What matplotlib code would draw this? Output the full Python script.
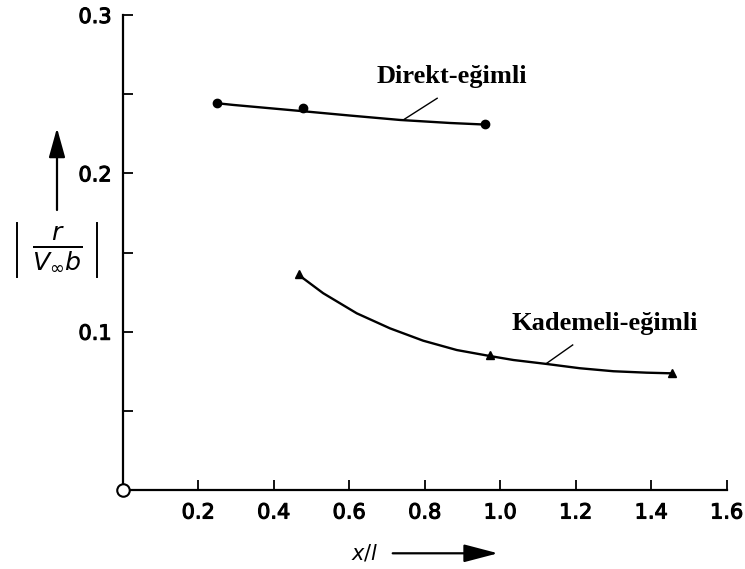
import matplotlib
matplotlib.use("Agg")
import matplotlib.pyplot as plt
import matplotlib.patheffects as pe
from matplotlib.lines import Line2D

# Data
direkt_x = [0.249, 0.477, 0.960]
direkt_y = [0.2443, 0.2411, 0.2310]
direkt_curve_x = [0.249, 0.293, 0.470, 0.602, 0.735, 0.867, 0.960]
direkt_curve_y = [0.2443, 0.2432, 0.2394, 0.2365, 0.2337, 0.2318, 0.2308]

kademeli_x = [0.468, 0.973, 1.454]
kademeli_y = [0.1364, 0.0850, 0.0737]
kademeli_curve_x = [0.468, 0.531, 0.620, 0.708, 0.796, 0.885, 0.973, 1.035,
                    1.123, 1.211, 1.300, 1.388, 1.452]
kademeli_curve_y = [0.1355, 0.1243, 0.1116, 0.1021, 0.0943, 0.0884, 0.0846, 0.0821,
                    0.0796, 0.0769, 0.0750, 0.0741, 0.0737]

x_ticks = [0.2, 0.4, 0.6, 0.8, 1.0, 1.2, 1.4, 1.6]
x_tick_labels = ["0.2", "0.4", "0.6", "0.8", "1.0", "1.2", "1.4", "1.6"]
y_ticks = [0.1, 0.2, 0.3]
y_tick_labels = ["0.1", "0.2", "0.3"]
y_minor_ticks = [0.05, 0.15, 0.25]

label_direkt = "Direkt-eğimli"
label_kademeli = "Kademeli-eğimli"

W, H = 745, 569
fig = plt.figure(figsize=(W / 100, H / 100), dpi=100)
ax = fig.add_axes([122.7 / W, 1 - 490 / H, (726.7 - 122.7) / W, (490 - 15) / H])

ax.set_xlim(0, 1.6)
ax.set_ylim(0, 0.3)
for s in ["top", "right"]:
    ax.spines[s].set_visible(False)
for s in ["left", "bottom"]:
    ax.spines[s].set_linewidth(1.6)
    ax.spines[s].set_color("black")

ax.set_xticks(x_ticks)
ax.set_xticklabels(x_tick_labels)
ax.set_yticks(y_ticks)
ax.set_yticklabels(y_tick_labels)
ax.set_yticks(y_minor_ticks, minor=True)
ax.tick_params(axis="both", which="both", direction="in", length=7, width=1.3,
               colors="black")
bold_fx = [pe.withStroke(linewidth=0.8, foreground="black")]
for lab in ax.get_xticklabels() + ax.get_yticklabels():
    lab.set_fontfamily("DejaVu Sans")
    lab.set_fontsize(15)
    lab.set_path_effects(bold_fx)
ax.tick_params(axis="x", pad=9)
ax.tick_params(axis="y", pad=8)

# Curves
ax.plot(direkt_curve_x, direkt_curve_y, color="black", lw=1.7, solid_capstyle="round",
        solid_joinstyle="round")
ax.plot(direkt_x, direkt_y, "o", color="black", ms=6, clip_on=False)
ax.plot(kademeli_curve_x, kademeli_curve_y, color="black", lw=1.7, solid_capstyle="round",
        solid_joinstyle="round")
ax.plot(kademeli_x, kademeli_y, "^", color="black", ms=6, clip_on=False)

# Origin circle
ax.plot([0], [0], "o", ms=9, mfc="white", mec="black", mew=1.5, clip_on=False, zorder=5)

# Leader lines
ax.plot([0.743, 0.833], [0.2337, 0.2474], color="black", lw=1.0)
ax.plot([1.123, 1.192], [0.0800, 0.0916], color="black", lw=1.0)

# Labels
ax.text(0.673, 0.2569, label_direkt, fontsize=19, fontweight="bold",
        family="Liberation Serif", ha="left", va="baseline")
ax.text(1.030, 0.1011, label_kademeli, fontsize=19, fontweight="bold",
        family="Liberation Serif", ha="left", va="baseline")

# Y label: |r / (V_inf b)| with arrow
fig.text(57 / W, 1 - 249 / H, r"$\frac{r}{V_\infty b}$", fontsize=26,
         ha="center", va="center")
for bx in (17, 97):
    fig.add_artist(Line2D([bx / W, bx / W], [1 - 223 / H, 1 - 277 / H],
                          transform=fig.transFigure, color="black", lw=1.4))
fig.add_artist(matplotlib.patches.FancyArrowPatch(
    (57 / W, 1 - 210 / H), (57 / W, 1 - 128 / H), transform=fig.transFigure,
    arrowstyle="-|>,head_length=1.8,head_width=0.5", mutation_scale=10,
    color="black", lw=1.6, shrinkA=0, shrinkB=0))

# X label with arrow
fig.text(365 / W, 1 - 553 / H, r"$x/l$", fontsize=15, ha="center", va="center")
fig.add_artist(matplotlib.patches.FancyArrowPatch(
    (392.7 / W, 1 - 553.3 / H), (498 / W, 1 - 553.3 / H), transform=fig.transFigure,
    arrowstyle="-|>,head_length=2.1,head_width=0.55", mutation_scale=10,
    color="black", lw=1.6, shrinkA=0, shrinkB=0))

fig.savefig("out.png", dpi=100)
